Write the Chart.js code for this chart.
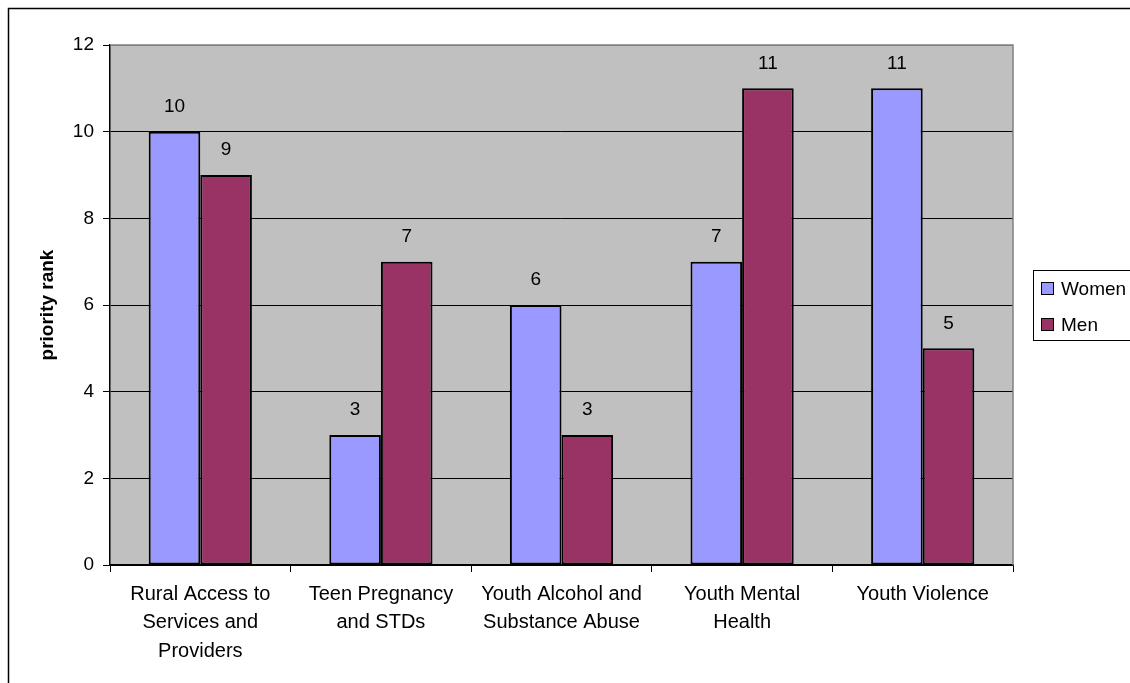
<!DOCTYPE html>
<html>
<head>
<meta charset="utf-8">
<script src="https://cdn.jsdelivr.net/npm/chart.js@4/dist/chart.umd.min.js"></script>
<style>
html,body{margin:0;padding:0;background:#fff;}
canvas{display:block;}
</style>
</head>
<body>
<canvas id="c" width="1130" height="683"></canvas>
<script>
const categories = [
  ["Rural Access to", "Services and", "Providers"],
  ["Teen Pregnancy", "and STDs"],
  ["Youth Alcohol and", "Substance Abuse"],
  ["Youth Mental", "Health"],
  ["Youth Violence"]
];
const womenValues = [10, 3, 6, 7, 11];
const menValues = [9, 7, 3, 11, 5];
const yTicks = [0, 2, 4, 6, 8, 10, 12];
const yAxisTitle = "priority rank";
const seriesNames = ["Women", "Men"];
const seriesColors = ["#9999FF", "#993366"];

const FONT = "'Liberation Sans', Arial, sans-serif";

const decor = {
  id: 'decor',
  beforeDraw(chart) {
    const ctx = chart.ctx, a = chart.chartArea;
    ctx.save();
    ctx.fillStyle = '#fff';
    ctx.fillRect(0, 0, chart.width, chart.height);
    ctx.fillStyle = '#C0C0C0';
    ctx.fillRect(a.left, a.top, a.right - a.left, a.bottom - a.top);
    ctx.strokeStyle = '#000';
    ctx.lineWidth = 1.5;
    ctx.beginPath();
    ctx.moveTo(8.5, chart.height);
    ctx.lineTo(8.5, 8.5);
    ctx.lineTo(chart.width, 8.5);
    ctx.stroke();
    ctx.restore();
  },
  afterDraw(chart) {
    const ctx = chart.ctx, a = chart.chartArea;
    ctx.save();
    ctx.strokeStyle = '#808080';
    ctx.lineWidth = 1.5;
    ctx.beginPath();
    ctx.moveTo(a.left, a.top);
    ctx.lineTo(a.right, a.top);
    ctx.lineTo(a.right, a.bottom);
    ctx.stroke();
    ctx.fillStyle = '#000';
    ctx.font = "bold 19px " + FONT;
    ctx.textAlign = 'center';
    ctx.textBaseline = 'middle';
    ctx.translate(48, (a.top + a.bottom) / 2);
    ctx.rotate(-Math.PI / 2);
    ctx.fillText(yAxisTitle, 0, 0);
    ctx.restore();

    ctx.save();
    ctx.fillStyle = '#000';
    ctx.font = "19px " + FONT;
    ctx.textAlign = 'center';
    ctx.textBaseline = 'middle';
    chart.data.datasets.forEach((ds, i) => {
      const meta = chart.getDatasetMeta(i);
      meta.data.forEach((el, j) => {
        ctx.fillText(String(ds.data[j]), el.x, el.y - 25);
      });
    });
    ctx.restore();

    ctx.save();
    ctx.strokeStyle = '#000';
    ctx.lineWidth = 1;
    ctx.fillStyle = '#fff';
    ctx.fillRect(1033.5, 270.5, 120, 70);
    ctx.strokeRect(1033.5, 270.5, 120, 70);
    ctx.font = "19px " + FONT;
    ctx.textBaseline = 'middle';
    ctx.textAlign = 'left';
    chart.data.datasets.forEach((ds, i) => {
      const cy = 289 + i * 36;
      ctx.fillStyle = ds.backgroundColor;
      ctx.fillRect(1041.5, cy - 6.5, 12, 12);
      ctx.strokeRect(1041.5, cy - 6.5, 12, 12);
      ctx.fillStyle = '#000';
      ctx.fillText(ds.label, 1061, cy + 1);
    });
    ctx.restore();
  }
};

new Chart(document.getElementById('c'), {
  type: 'bar',
  data: {
    labels: categories,
    datasets: [
      { label: seriesNames[0], data: womenValues, backgroundColor: seriesColors[0], borderColor: '#000', borderWidth: 2, borderSkipped: false },
      { label: seriesNames[1], data: menValues, backgroundColor: seriesColors[1], borderColor: '#000', borderWidth: 2, borderSkipped: false }
    ]
  },
  options: {
    responsive: false,
    animation: false,
    devicePixelRatio: 1,
    layout: { padding: { top: 45, right: 117, left: 0, bottom: 0 } },
    datasets: { bar: { categoryPercentage: 2 / 3.5, barPercentage: 1 } },
    plugins: { legend: { display: false }, tooltip: { enabled: false } },
    scales: {
      x: {
        afterFit(s) { s.height = 118; },
        grid: { display: true, drawOnChartArea: false, drawTicks: true, tickLength: 7, tickColor: '#000', offset: true },
        border: { display: true, color: '#000', width: 1.5 },
        ticks: { color: '#000', font: { family: FONT, size: 20, lineHeight: 1.42 }, padding: 8, maxRotation: 0, autoSkip: false }
      },
      y: {
        min: 0, max: 12,
        afterFit(s) { s.width = 110; },
        afterBuildTicks(s) { s.ticks = yTicks.map(v => ({ value: v })); },
        grid: {
          color: (c) => (c.tick && c.tick.value === 12) ? '#808080' : '#000',
          lineWidth: 1,
          drawTicks: true, tickLength: 7, tickColor: '#000'
        },
        border: { display: true, color: '#000', width: 1.5 },
        ticks: { color: '#000', font: { family: FONT, size: 19 }, padding: 9, stepSize: 2 }
      }
    }
  },
  plugins: [decor]
});
</script>
</body>
</html>
